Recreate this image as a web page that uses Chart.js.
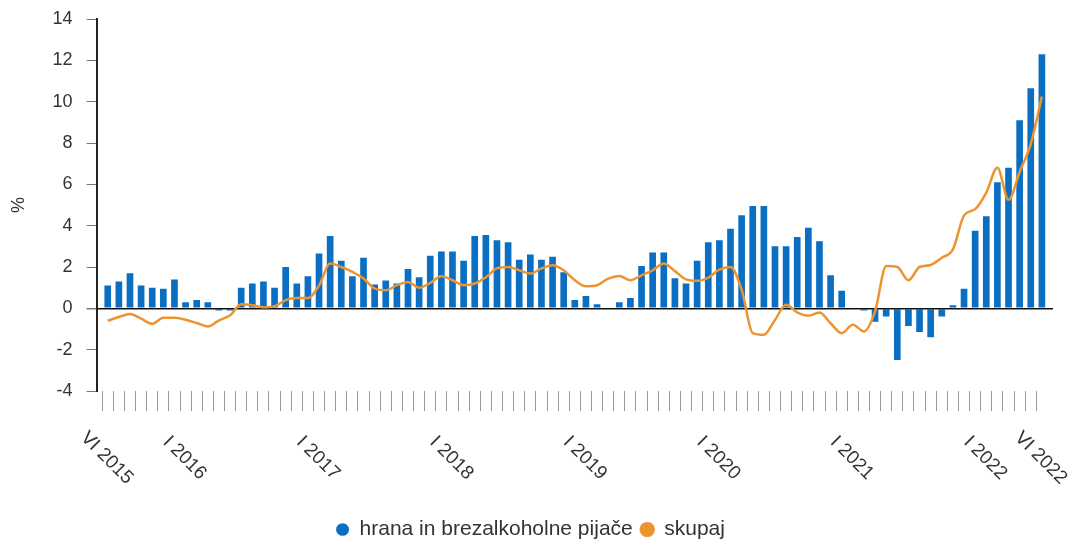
<!DOCTYPE html>
<html>
<head>
<meta charset="utf-8">
<script src="https://cdn.jsdelivr.net/npm/chart.js@4.4.0/dist/chart.umd.min.js"></script>
<style>
  html, body { margin: 0; padding: 0; background: #fff; }
  #wrap { width: 1074px; height: 545px; }
</style>
</head>
<body>
<div id="wrap"><canvas id="chart"></canvas></div>
<script>
// months VI 2015 .. VI 2022
const romans = ['I', 'II', 'III', 'IV', 'V', 'VI', 'VII', 'VIII', 'IX', 'X', 'XI', 'XII'];
const categories = [];
for (let y = 2015, m = 5; y < 2022 || (y === 2022 && m <= 5); m++) {
    if (m === 12) { m = 0; y++; }
    if (y === 2022 && m > 5) break;
    categories.push(romans[m] + ' ' + y);
}

const shownLabels = ['VI 2015', 'I 2016', 'I 2017', 'I 2018', 'I 2019', 'I 2020', 'I 2021', 'I 2022', 'VI 2022'];

const yTicks = [-4, -2, 0, 2, 4, 6, 8, 10, 12, 14];

// hrana in brezalkoholne pijace
const food = [
    1.1, 1.3, 1.7, 1.1, 1.0, 0.95, 1.4,
    0.3, 0.4, 0.3, -0.1, -0.1, 1.0, 1.2, 1.3, 1.0, 2.0, 1.2, 1.55,
    2.65, 3.5, 2.3, 1.55, 2.45, 1.15, 1.35, 1.2, 1.9, 1.5, 2.55, 2.75,
    2.75, 2.3, 3.5, 3.55, 3.3, 3.2, 2.35, 2.6, 2.35, 2.5, 1.75, 0.4,
    0.6, 0.2, 0, 0.3, 0.5, 2.05, 2.7, 2.7, 1.45, 1.2, 2.3, 3.2,
    3.3, 3.85, 4.5, 4.95, 4.95, 3.0, 3.0, 3.45, 3.9, 3.25, 1.6, 0.85,
    0, -0.1, -0.65, -0.4, -2.5, -0.85, -1.15, -1.4, -0.4, 0.15, 0.95, 3.75,
    4.45, 6.1, 6.8, 9.1, 10.65, 12.3
];

// skupaj
const total = [
    -0.6, -0.42, -0.28, -0.5, -0.75, -0.45, -0.45,
    -0.55, -0.71, -0.88, -0.58, -0.34, 0.2, 0.15, 0.05, 0.1, 0.4, 0.5, 0.5,
    1.1, 2.17, 2.0, 1.76, 1.44, 0.96, 0.87, 1.12, 1.28, 1.0, 1.23, 1.55,
    1.36, 1.12, 1.2, 1.5, 1.93, 2.0, 1.84, 1.68, 1.93, 2.09, 1.84, 1.36,
    1.07, 1.12, 1.44, 1.57, 1.36, 1.6, 1.84, 2.17, 1.8, 1.4, 1.33, 1.49,
    1.87, 2.0, 0.9, -1.2, -1.28, -0.56, 0.17, -0.2, -0.36, -0.2, -0.72, -1.2,
    -0.8, -1.12, -0.15, 2.05, 2.0, 1.36, 2.0, 2.1, 2.45, 2.85, 4.5, 4.8,
    5.6, 6.8, 5.25, 6.6, 7.95, 10.25
];

const FONT = "'Liberation Sans', Arial, sans-serif";
const TEXT = '#333';
const BLUE = '#0a6fc2';
const ORANGE = '#ec9430';

// rotated date labels under the axis
const xLabelPlugin = {
    id: 'xLabels',
    afterDraw(chart) {
        const sx = chart.scales.x;
        const ctx = chart.ctx;
        ctx.save();
        ctx.font = '19px ' + FONT;
        ctx.fillStyle = TEXT;
        ctx.textAlign = 'center';
        ctx.textBaseline = 'middle';
        shownLabels.forEach(lbl => {
            const i = categories.indexOf(lbl);
            const x = sx.getPixelForValue(i);
            ctx.save();
            ctx.translate(x - 1, sx.top + 67);
            ctx.rotate(Math.PI / 4);
            ctx.fillText(lbl, 0, 0);
            ctx.restore();
        });
        ctx.restore();
    }
};

new Chart(document.getElementById('chart'), {
    type: 'bar',
    data: {
        datasets: [
            {
                label: 'hrana in brezalkoholne pijače',
                data: food.map((v, i) => ({ x: i, y: v })),
                backgroundColor: BLUE,
                borderWidth: 0,
                barPercentage: 0.75,
                categoryPercentage: 0.8,
                order: 1
            },
            {
                type: 'line',
                label: 'skupaj',
                data: total.map((v, i) => ({ x: i, y: v })),
                borderColor: ORANGE,
                backgroundColor: ORANGE,
                borderWidth: 2.5,
                pointRadius: 0,
                cubicInterpolationMode: 'monotone',
                order: 0
            }
        ]
    },
    options: {
        responsive: true,
        maintainAspectRatio: false,
        animation: false,
        layout: { padding: { top: 19, left: 8, right: 21, bottom: -5 } },
        plugins: {
            tooltip: { enabled: false },
            legend: {
                position: 'bottom',
                labels: {
                    usePointStyle: true,
                    pointStyle: 'circle',
                    pointStyleWidth: 13,
                    boxWidth: 13,
                    boxHeight: 9,
                    padding: 8,
                    color: TEXT,
                    font: { family: FONT, size: 21 },
                    sort: (a, b) => a.datasetIndex - b.datasetIndex
                }
            }
        },
        scales: {
            x: {
                type: 'linear',
                min: -1,
                max: categories.length,
                offset: false,
                afterFit: s => { s.height = 120; },
                border: { display: false },
                grid: {
                    drawOnChartArea: false,
                    drawTicks: true,
                    tickLength: 20,
                    color: c => (c.tick && c.tick.value >= 0 && c.tick.value < categories.length) ? '#9a9a9a' : 'rgba(0,0,0,0)',
                    lineWidth: 1
                },
                ticks: { display: false, stepSize: 1 }
            },
            y: {
                min: yTicks[0],
                max: yTicks[yTicks.length - 1],
                afterBuildTicks: s => { s.ticks = yTicks.map(v => ({ value: v })); },
                afterFit: s => { s.paddingTop = 0; s.paddingBottom = 0; },
                border: { display: true, color: '#222', width: 2 },
                grid: {
                    drawOnChartArea: true,
                    color: c => (c.tick && c.tick.value === 0) ? '#111' : 'rgba(0,0,0,0)',
                    lineWidth: c => (c.tick && c.tick.value === 0) ? 1.5 : 1,
                    tickColor: '#777',
                    tickLength: 10
                },
                ticks: {
                    color: TEXT,
                    padding: 14,
                    font: { family: FONT, size: 18 }
                },
                title: {
                    display: true,
                    text: '%',
                    color: TEXT,
                    font: { family: FONT, size: 18 },
                    padding: { top: 0, bottom: 9 }
                }
            }
        }
    },
    plugins: [xLabelPlugin]
});
</script>
</body>
</html>
